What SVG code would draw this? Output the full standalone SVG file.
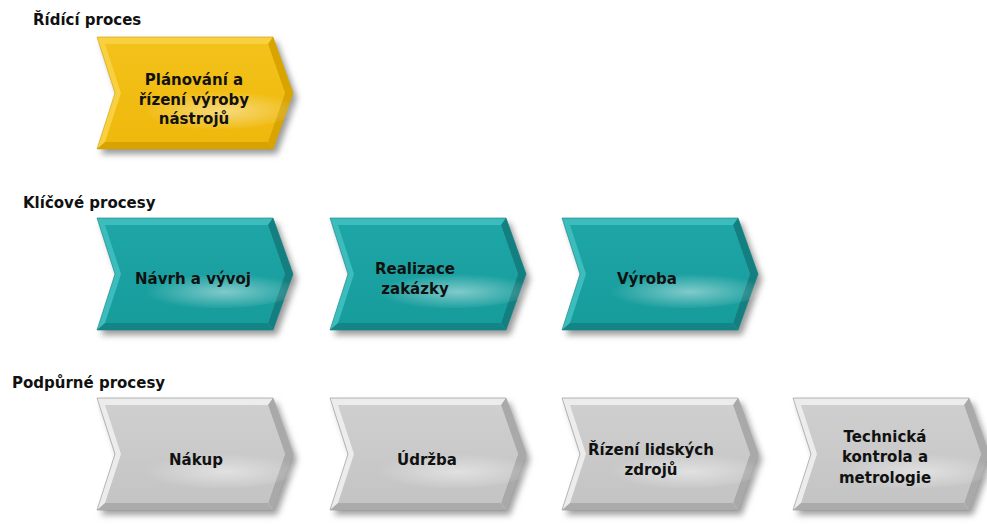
<svg xmlns="http://www.w3.org/2000/svg" width="987" height="524" viewBox="0 0 987 524">
  <style>
    .hdr { font-family: "DejaVu Sans", "Liberation Sans", sans-serif; font-weight: bold; font-size: 15px; fill: #111; }
    .lbl { font-family: "DejaVu Sans", "Liberation Sans", sans-serif; font-weight: bold; font-size: 15px; fill: #111; text-anchor: middle; }
    .gloss { fill: url(#gloss); }
  </style>
  <defs>
    <!-- chevron outline and its inner face -->
    <path id="outer" d="M0,0 H176 L196,56 L176,112 H0 L18,56 Z"/>
    <path id="inner" d="M8,7 H171 L188,56 L171,105 H8 L24,56 Z"/>
    <path id="rbevel" d="M171,7 L176,0 L196,56 L176,112 L171,105 L188,56 Z"/>
    <path id="bbevel" d="M8,105 H171 L176,112 H0 Z"/>
    <filter id="shadow" x="-10%" y="-10%" width="130%" height="140%">
      <feGaussianBlur stdDeviation="3"/>
    </filter>
    <radialGradient id="gloss" cx="0.55" cy="0.55" r="0.5">
      <stop offset="0" stop-color="#fff" stop-opacity="0.45"/>
      <stop offset="1" stop-color="#fff" stop-opacity="0"/>
    </radialGradient>
    <linearGradient id="gY" x1="0" y1="0" x2="0" y2="1">
      <stop offset="0" stop-color="#f3c21a"/>
      <stop offset="1" stop-color="#efb80c"/>
    </linearGradient>
    <linearGradient id="gT" x1="0" y1="0" x2="0" y2="1">
      <stop offset="0" stop-color="#1ea5a5"/>
      <stop offset="1" stop-color="#179c9c"/>
    </linearGradient>
    <linearGradient id="gG" x1="0" y1="0" x2="0" y2="1">
      <stop offset="0" stop-color="#cfcfcf"/>
      <stop offset="1" stop-color="#c4c4c4"/>
    </linearGradient>
    <g id="chevY">
      <use href="#outer" transform="translate(4,5)" fill="#9a9a9a" filter="url(#shadow)"/>
      <use href="#outer" fill="#f8d040" stroke="#c9a000" stroke-width="0.6"/>
      <use href="#inner" fill="url(#gY)"/>
      <use href="#rbevel" fill="#d9a400"/>
      <use href="#bbevel" fill="#d8a300"/>
      <ellipse class="gloss" cx="118" cy="72" rx="80" ry="20"/>
    </g>
    <g id="chevT">
      <use href="#outer" transform="translate(4,5)" fill="#9a9a9a" filter="url(#shadow)"/>
      <use href="#outer" fill="#3cbcbc" stroke="#137f7f" stroke-width="0.6"/>
      <use href="#inner" fill="url(#gT)"/>
      <use href="#rbevel" fill="#137f80"/>
      <use href="#bbevel" fill="#148586"/>
      <ellipse class="gloss" cx="120" cy="72" rx="80" ry="18"/>
    </g>
    <g id="chevG">
      <use href="#outer" transform="translate(4,5)" fill="#a0a0a0" filter="url(#shadow)"/>
      <use href="#outer" fill="#ececec" stroke="#8c8c8c" stroke-width="0.6"/>
      <use href="#inner" fill="url(#gG)"/>
      <use href="#rbevel" fill="#a9a9a9"/>
      <use href="#bbevel" fill="#ababab"/>
      <ellipse class="gloss" cx="120" cy="72" rx="80" ry="18"/>
    </g>
  </defs>

  <rect width="987" height="524" fill="#fff"/>

  <!-- row headings -->
  <text class="hdr" x="33" y="25">Řídící proces</text>
  <text class="hdr" x="23" y="208">Klíčové procesy</text>
  <text class="hdr" x="12" y="388">Podpůrné procesy</text>

  <!-- control process -->
  <g id="planovani">
    <use href="#chevY" x="97" y="37"/>
    <text class="lbl" x="194" y="85">Plánování a</text>
    <text class="lbl" x="194" y="105">řízení výroby</text>
    <text class="lbl" x="194" y="124">nástrojů</text>
  </g>

  <!-- key processes -->
  <g id="navrh">
    <use href="#chevT" x="97" y="218"/>
    <text class="lbl" x="193" y="284">Návrh a vývoj</text>
  </g>
  <g id="realizace">
    <use href="#chevT" x="330" y="218"/>
    <text class="lbl" x="415" y="274">Realizace</text>
    <text class="lbl" x="415" y="294">zakázky</text>
  </g>
  <g id="vyroba">
    <use href="#chevT" x="562" y="218"/>
    <text class="lbl" x="647" y="284">Výroba</text>
  </g>

  <!-- support processes -->
  <g id="nakup">
    <use href="#chevG" x="97" y="398"/>
    <text class="lbl" x="196" y="465">Nákup</text>
  </g>
  <g id="udrzba">
    <use href="#chevG" x="330" y="398"/>
    <text class="lbl" x="427" y="465">Údržba</text>
  </g>
  <g id="lidske-zdroje">
    <use href="#chevG" x="562" y="398"/>
    <text class="lbl" x="651" y="455">Řízení lidských</text>
    <text class="lbl" x="651" y="475">zdrojů</text>
  </g>
  <g id="technicka-kontrola">
    <use href="#chevG" x="793" y="398"/>
    <text class="lbl" x="885" y="442">Technická</text>
    <text class="lbl" x="885" y="462">kontrola a</text>
    <text class="lbl" x="885" y="483">metrologie</text>
  </g>

  <g id="connectors"/>
</svg>
